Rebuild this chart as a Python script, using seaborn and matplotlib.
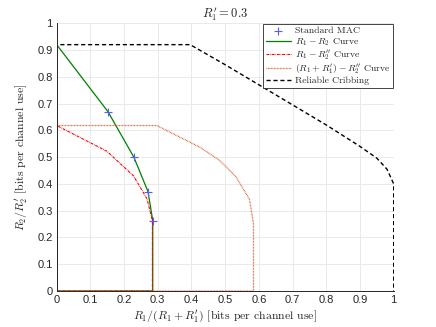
import matplotlib
matplotlib.use("Agg")
import matplotlib.pyplot as plt
import seaborn as sns

# standard MAC points
mac_x = [0.152, 0.229, 0.271, 0.285]
mac_y = [0.670, 0.500, 0.371, 0.263]

# R1 - R2 curve (closed region)
r12_x = [0, 0, 0.152, 0.229, 0.271, 0.285, 0.285, 0]
r12_y = [0, 0.92, 0.670, 0.500, 0.371, 0.263, 0, 0]

# R1 - R2'' curve
r1b_x = [0, 0, 0.149, 0.228, 0.268, 0.284, 0.284, 0]
r1b_y = [0, 0.618, 0.522, 0.430, 0.344, 0.263, 0, 0]

# (R1 + R1') - R2'' curve
rsum_x = [0, 0, 0.297, 0.425, 0.482, 0.530, 0.572, 0.584, 0.584, 0]
rsum_y = [0, 0.618, 0.618, 0.537, 0.489, 0.430, 0.343, 0.251, 0, 0]

# reliable cribbing
crib_x = [0, 0, 0.396, 0.5, 0.6, 0.7, 0.8, 0.9, 0.95, 0.98, 1.0, 1.0]
crib_y = [0, 0.92, 0.92, 0.845, 0.770, 0.695, 0.620, 0.540, 0.496, 0.455, 0.400, 0]

ticks = [0, 0.1, 0.2, 0.3, 0.4, 0.5, 0.6, 0.7, 0.8, 0.9, 1]
tick_labels = ["0", "0.1", "0.2", "0.3", "0.4", "0.5", "0.6", "0.7", "0.8", "0.9", "1"]

sns.set_style("whitegrid", {"grid.color": "#e6e6e6", "axes.edgecolor": "#262626",
                            "xtick.direction": "in", "ytick.direction": "in"})
plt.rcParams["mathtext.fontset"] = "cm"
plt.rcParams["font.family"] = ["Liberation Sans", "DejaVu Sans"]

fig = plt.figure(figsize=(4.36, 3.27), dpi=100)
ax = fig.add_axes([0.13, 0.11, 0.773, 0.819])

sns.scatterplot(x=mac_x, y=mac_y, marker="+", color="#5a5aff", s=28, linewidth=0.8,
                ax=ax, label="Standard MAC", zorder=5)
sns.lineplot(x=r12_x, y=r12_y, sort=False, estimator=None, color="#008000",
             linewidth=0.9, ax=ax, label="$R_1 - R_2$ Curve")
sns.lineplot(x=r1b_x, y=r1b_y, sort=False, estimator=None, color="#ff0000",
             linewidth=0.8, ax=ax, label="$R_1 - R_2''$ Curve", dashes=False)
ax.lines[-1].set_dashes([2.5, 0.8, 0.6, 0.8])
sns.lineplot(x=rsum_x, y=rsum_y, sort=False, estimator=None, color="#d95319",
             linewidth=0.9, ax=ax, label="$(R_1 + R_1') - R_2''$ Curve")
ax.lines[-1].set_dashes([0.6, 0.6])
sns.lineplot(x=crib_x, y=crib_y, sort=False, estimator=None, color="black",
             linewidth=1.0, ax=ax, label="Reliable Cribbing")
ax.lines[-1].set_dashes([3, 2])

ax.set_xlim(0, 1)
ax.set_ylim(0, 1)
ax.set_xticks(ticks)
ax.set_xticklabels(tick_labels, fontsize=8, color="#262626")
ax.set_yticks(ticks)
ax.set_yticklabels(tick_labels, fontsize=8, color="#262626")
ax.tick_params(length=3, width=0.6, color="#262626", pad=3)
ax.grid(True, linewidth=0.6)
for side in ["top", "right"]:
    ax.spines[side].set_visible(False)
for side in ["left", "bottom"]:
    ax.spines[side].set_linewidth(0.7)

ax.set_title("$R_1' = 0.3$", fontsize=9, family="cmr10", pad=4)
ax.set_xlabel("$R_1/(R_1 + R_1')$ [bits per channel use]", fontsize=8.5, family="cmr10", labelpad=2)
ax.set_ylabel("$R_2/R_2'$ [bits per channel use]", fontsize=8.5, family="cmr10", labelpad=5)

leg = ax.legend(loc="upper right", prop={"family": "cmr10", "size": 7}, frameon=True,
                fancybox=False, edgecolor="#262626", framealpha=1, borderaxespad=0.1,
                handlelength=2.6, labelspacing=0.05, borderpad=0.25, handletextpad=0.4)
leg.get_frame().set_linewidth(0.6)

fig.savefig("out.png", dpi=100)
